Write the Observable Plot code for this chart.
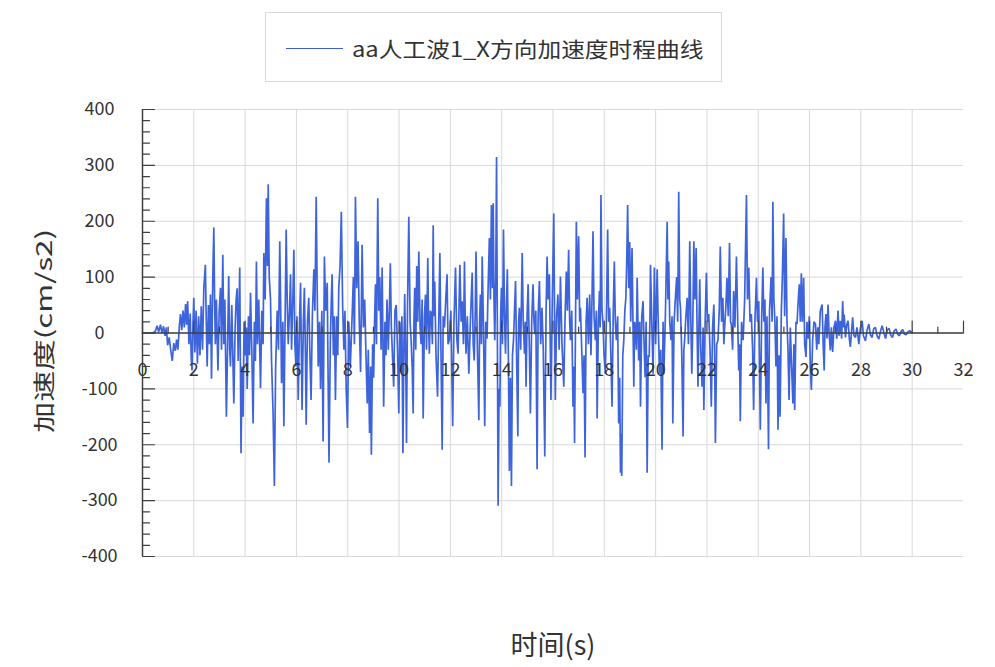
<!DOCTYPE html>
<html><head><meta charset="utf-8">
<script src="https://cdn.jsdelivr.net/npm/d3@7"></script>
<script src="https://cdn.jsdelivr.net/npm/@observablehq/plot@0.6"></script>
<style>
html,body{margin:0;padding:0;background:#fff;}
#wrap{position:relative;width:995px;height:667px;overflow:hidden;font-family:"Noto Sans CJK SC","Noto Sans",sans-serif;}
#chart{position:absolute;left:0;top:0;}
#legend{position:absolute;left:265px;top:12px;width:455px;height:68px;border:1px solid #d9d9d9;background:#fff;}
#legend .swatch{position:absolute;left:20px;top:35px;width:57px;height:0;border-top:1.5px solid #3f5fd0;}
#legend .label{position:absolute;left:86px;top:23px;font-size:21px;line-height:24px;color:#333;transform:scaleX(1.13);transform-origin:left center;white-space:nowrap;}
#ytitle{position:absolute;left:42px;top:331px;transform:translate(-50%,-50%) rotate(-90deg) scaleX(1.42);font-size:22px;line-height:24px;color:#333;white-space:nowrap;}
</style>
</head><body>
<div id="wrap">
  <div id="chart"></div>
  <div id="legend"><div class="swatch"></div><div class="label" id="legendLabel"></div></div>
  <div id="ytitle"></div>
</div>
<script>
const seriesName = "aa人工波1_X方向加速度时程曲线";
const xTitle = "时间(s)";
const yTitle = "加速度(cm/s2)";

const xMajorTicks = [0,2,4,6,8,10,12,14,16,18,20,22,24,26,28,30,32];
const xMinorTicks = [1,3,5,7,9,11,13,15,17,19,21,23,25,27,29,31];
const xGridTicks = [2,4,6,8,10,12,14,16,18,20,22,24,26,28,30];
const yMajorTicks = [-400,-300,-200,-100,0,100,200,300,400];
const yMinorTicks = [-380,-360,-340,-320,-280,-260,-240,-220,-180,-160,-140,-120,-80,-60,-40,-20,20,40,60,80,120,140,160,180,220,240,260,280,320,340,360,380];

// [time (s), acceleration (cm/s2)]
const wave0to8 = [[0,0],[0.4,0],[0.5,3],[0.57,13],[0.63,2],[0.7,15],[0.76,0],[0.82,12],[0.88,-5],[0.93,10],[0.98,-22],[1.04,-8],[1.1,-30],[1.16,-50],[1.22,-18],[1.28,-32],[1.33,-12],[1.38,-30],[1.44,15],[1.48,34],[1.53,5],[1.58,40],[1.63,10],[1.68,52],[1.72,15],[1.76,57],[1.81,-20],[1.86,35],[1.9,-45],[1.93,-67],[1.97,20],[2.0,63],[2.04,-35],[2.09,40],[2.14,-55],[2.19,30],[2.24,-40],[2.29,48],[2.34,-30],[2.39,80],[2.45,122],[2.49,10],[2.52,-60],[2.57,50],[2.61,-20],[2.65,69],[2.69,-82],[2.74,100],[2.78,189],[2.81,60],[2.84,-20],[2.88,60],[2.94,-67],[2.99,40],[3.04,81],[3.08,-30],[3.13,140],[3.17,-20],[3.21,60],[3.27,-150],[3.31,-40],[3.36,102],[3.4,-30],[3.43,-60],[3.48,50],[3.52,-40],[3.56,-126],[3.61,10],[3.65,60],[3.69,80],[3.73,-50],[3.79,117],[3.84,-215],[3.88,-60],[3.92,-150],[3.96,20],[4.01,-40],[4.05,10],[4.08,-100],[4.13,30],[4.17,-40],[4.21,72],[4.26,-30],[4.31,-162],[4.36,20],[4.4,-50],[4.44,128],[4.48,-20],[4.53,60],[4.57,-30],[4.6,-99],[4.65,40],[4.7,-20],[4.73,143],[4.78,60],[4.83,241],[4.87,120],[4.9,266],[4.94,100],[4.99,60],[5.03,-50],[5.09,-144],[5.14,-274],[5.19,-60],[5.25,40],[5.3,-30],[5.35,164],[5.39,30],[5.42,-90],[5.47,20],[5.51,-167],[5.56,30],[5.6,185],[5.64,60],[5.68,-20],[5.73,40],[5.77,105],[5.81,-30],[5.86,60],[5.9,149],[5.94,-20],[5.98,-60],[6.02,30],[6.07,-120],[6.12,20],[6.16,90],[6.22,-138],[6.27,20],[6.31,81],[6.35,-40],[6.38,-164],[6.43,20],[6.48,63],[6.52,-30],[6.57,-120],[6.62,30],[6.68,114],[6.72,40],[6.77,244],[6.81,70],[6.85,-60],[6.9,20],[6.94,-100],[6.99,40],[7.04,-194],[7.09,137],[7.14,40],[7.2,90],[7.23,-60],[7.27,-232],[7.32,-20],[7.36,60],[7.39,105],[7.44,-40],[7.48,30],[7.52,-120],[7.57,30],[7.61,-40],[7.65,80],[7.7,120],[7.75,217],[7.8,50],[7.85,-30],[7.89,40],[7.94,-100],[7.99,-170]];

const wave8to16 = [[8.04,20],[8.1,-60],[8.17,30],[8.22,100],[8.26,-20],[8.3,244],[8.35,80],[8.4,164],[8.45,20],[8.5,-70],[8.56,158],[8.61,10],[8.66,60],[8.71,-40],[8.76,-126],[8.8,-30],[8.85,-179],[8.89,-60],[8.92,-218],[8.97,-20],[9.01,-80],[9.05,30],[9.08,87],[9.12,-20],[9.17,241],[9.21,40],[9.25,100],[9.3,-30],[9.34,117],[9.4,-132],[9.45,20],[9.49,-40],[9.53,60],[9.58,-30],[9.62,40],[9.66,125],[9.7,10],[9.73,-25],[9.79,-96],[9.84,40],[9.89,50],[9.94,-30],[9.99,-144],[10.03,20],[10.07,-70],[10.11,30],[10.15,-215],[10.19,-20],[10.22,70],[10.26,-50],[10.29,-197],[10.33,50],[10.38,208],[10.43,20],[10.47,-13],[10.51,-60],[10.55,-144],[10.58,20],[10.61,81],[10.65,-30],[10.69,120],[10.73,20],[10.77,146],[10.82,10],[10.86,-20],[10.9,60],[10.94,-153],[10.99,30],[11.03,69],[11.07,-30],[11.12,134],[11.15,20],[11.18,-37],[11.22,40],[11.26,34],[11.3,-20],[11.33,193],[11.36,30],[11.39,92],[11.44,-40],[11.5,-114],[11.55,30],[11.59,143],[11.63,-20],[11.68,-209],[11.72,30],[11.77,10],[11.82,60],[11.87,105],[11.91,-20],[11.96,-13],[12.02,40],[12.09,-167],[12.14,20],[12.2,117],[12.25,-10],[12.3,-37],[12.34,50],[12.37,122],[12.42,20],[12.46,57],[12.51,-20],[12.55,128],[12.58,20],[12.61,-37],[12.66,30],[12.72,-73],[12.78,20],[12.85,108],[12.89,-20],[12.93,-49],[12.97,40],[13.0,146],[13.05,-20],[13.11,-156],[13.14,20],[13.17,69],[13.21,-20],[13.24,137],[13.29,10],[13.34,-167],[13.38,20],[13.43,-10],[13.47,80],[13.52,170],[13.56,60],[13.6,229],[13.64,80],[13.67,232],[13.7,60],[13.73,-13],[13.77,100],[13.8,315],[13.83,20],[13.86,-309],[13.9,-100],[13.93,-132],[13.96,30],[13.99,81],[14.03,-20],[14.07,185],[14.11,30],[14.15,-37],[14.18,40],[14.22,114],[14.26,-40],[14.3,-247],[14.34,-80],[14.38,-274],[14.42,-40],[14.46,-13],[14.5,40],[14.54,93],[14.58,-40],[14.63,-185],[14.66,20],[14.69,45],[14.74,-30],[14.8,143],[14.84,20],[14.89,-37],[14.92,20],[14.95,-96],[14.99,30],[15.03,87],[15.08,-30],[15.12,-144],[15.17,20],[15.22,87],[15.26,20],[15.29,-2],[15.33,40],[15.38,-244],[15.42,30],[15.47,93],[15.52,-20],[15.57,45],[15.62,-30],[15.68,-221],[15.73,40],[15.77,137],[15.81,60],[15.86,105],[15.92,-120],[15.97,50]];

const wave16to24 = [[16.03,214],[16.06,40],[16.09,-120],[16.14,30],[16.19,69],[16.24,-30],[16.29,101],[16.35,-20],[16.42,-96],[16.47,30],[16.52,110],[16.56,40],[16.61,149],[16.65,20],[16.68,-13],[16.73,40],[16.78,-132],[16.81,-60],[16.84,-197],[16.88,30],[16.91,199],[16.95,60],[17.0,173],[17.04,20],[17.07,45],[17.12,-30],[17.17,-108],[17.21,-40],[17.25,-223],[17.29,20],[17.33,63],[17.38,-20],[17.43,69],[17.48,-40],[17.52,60],[17.56,182],[17.6,30],[17.65,-13],[17.69,40],[17.72,-153],[17.77,20],[17.81,75],[17.84,10],[17.87,247],[17.91,40],[17.95,16],[17.99,-40],[18.04,-73],[18.09,50],[18.13,185],[18.17,20],[18.21,45],[18.25,-30],[18.3,-132],[18.35,40],[18.39,128],[18.43,20],[18.47,-13],[18.52,30],[18.56,-162],[18.6,-80],[18.63,-250],[18.66,-180],[18.68,-256],[18.72,-40],[18.76,-13],[18.8,40],[18.84,63],[18.87,120],[18.91,229],[18.95,80],[18.99,163],[19.03,20],[19.08,152],[19.12,10],[19.15,-96],[19.18,20],[19.21,10],[19.25,-30],[19.28,99],[19.31,20],[19.34,-49],[19.38,20],[19.41,-132],[19.46,30],[19.51,57],[19.55,-20],[19.59,-79],[19.63,20],[19.67,-250],[19.71,-40],[19.75,-43],[19.78,30],[19.8,122],[19.85,20],[19.9,-73],[19.93,30],[19.95,117],[20.0,-20],[20.06,114],[20.1,20],[20.15,-73],[20.2,-30],[20.25,-209],[20.29,20],[20.32,-73],[20.38,30],[20.45,199],[20.48,60],[20.51,128],[20.55,20],[20.6,-13],[20.64,30],[20.67,-162],[20.72,20],[20.77,63],[20.82,100],[20.86,20],[20.9,253],[20.94,60],[20.97,45],[21.02,-40],[21.07,-185],[21.1,-30],[21.13,-13],[21.18,30],[21.23,63],[21.28,-20],[21.33,164],[21.37,30],[21.41,-73],[21.45,20],[21.49,164],[21.53,60],[21.58,152],[21.61,30],[21.65,-96],[21.69,20],[21.72,96],[21.76,-30],[21.81,-96],[21.85,10],[21.88,-138],[21.93,20],[21.98,108],[22.02,20],[22.07,34],[22.12,-30],[22.17,-132],[22.22,10],[22.27,51],[22.3,-40],[22.33,-197],[22.38,-20],[22.43,-13],[22.48,40],[22.52,155],[22.57,20],[22.62,63],[22.66,-20],[22.69,10],[22.74,50],[22.78,99],[22.83,30],[22.88,161],[22.92,20],[22.95,16],[23.0,-30],[23.04,75],[23.09,10],[23.15,137],[23.2,20],[23.24,-67],[23.27,-20],[23.3,-158],[23.35,20],[23.41,-13],[23.47,60],[23.54,247],[23.58,60],[23.63,117],[23.68,20],[23.73,34],[23.78,-30],[23.82,-138],[23.87,20],[23.93,99],[23.97,20],[24.02,57]];

const wave24to30 = [[24.08,-173],[24.13,20],[24.18,117],[24.22,20],[24.26,60],[24.3,-126],[24.34,30],[24.4,-208],[24.44,40],[24.5,100],[24.54,20],[24.57,235],[24.61,60],[24.65,20],[24.69,-60],[24.73,30],[24.77,-173],[24.81,-40],[24.85,-150],[24.9,40],[24.94,100],[24.99,214],[25.03,30],[25.08,170],[25.12,20],[25.16,-30],[25.2,-120],[25.25,10],[25.3,-60],[25.35,-126],[25.39,-20],[25.42,-138],[25.47,20],[25.51,16],[25.56,60],[25.6,87],[25.64,20],[25.68,107],[25.72,20],[25.77,99],[25.81,-20],[25.86,-43],[25.9,20],[25.95,-10],[25.99,30],[26.03,-60],[26.07,-102],[26.12,-13],[26.17,20],[26.23,16],[26.28,-30],[26.32,10],[26.36,-20],[26.42,40],[26.49,51],[26.53,-20],[26.57,-67],[26.6,10],[26.64,34],[26.68,-10],[26.72,51],[26.76,0],[26.81,-31],[26.85,10],[26.9,-34],[26.95,10],[27.01,22],[27.06,-10],[27.11,40],[27.15,-5],[27.2,22],[27.25,-10],[27.29,57],[27.33,10],[27.35,33],[27.4,-8],[27.45,15],[27.5,22],[27.55,-10],[27.59,-25],[27.64,5],[27.68,28],[27.73,-5],[27.79,-8],[27.85,10],[27.92,-20],[27.98,8],[28.05,22],[28.1,-5],[28.18,-14],[28.24,5],[28.31,16],[28.37,-3],[28.44,-8],[28.5,8],[28.57,10],[28.63,-5],[28.7,-11],[28.77,4],[28.83,13],[28.9,0],[28.96,-10],[29.03,6],[29.1,8],[29.16,-3],[29.23,-8],[29.3,4],[29.37,7],[29.43,-2],[29.5,-5],[29.57,3],[29.63,6],[29.7,-2],[29.77,-3],[29.83,2],[29.9,4],[30.0,0]];

const wave = [...wave0to8, ...wave8to16, ...wave16to24, ...wave24to30].map(([t, a]) => ({t, a}));

const axisColor = "#404040";
const gridColor = "#d9d9d9";
const lineColor = "#3e64dc";
const textColor = "#333333";
const tickShape = {draw(ctx, l) { ctx.moveTo(0, 0); ctx.lineTo(0, -l); }};

const chart = Plot.plot({
  width: 995,
  height: 667,
  marginLeft: 142,
  marginRight: 32,
  marginTop: 109,
  marginBottom: 111,
  style: {fontFamily: '"Noto Sans CJK SC","Noto Sans",sans-serif', background: "transparent"},
  x: {domain: [0, 32], axis: null},
  y: {domain: [-400, 400], axis: null},
  marks: [
    Plot.ruleY(yMajorTicks, {stroke: gridColor, strokeWidth: 1}),
    Plot.ruleX(xGridTicks, {stroke: gridColor, strokeWidth: 1}),
    Plot.line(wave, {x: "t", y: "a", stroke: lineColor, strokeWidth: 1.7, strokeLinejoin: "miter"}),
    Plot.ruleY([0], {stroke: axisColor, strokeWidth: 1.5}),
    Plot.ruleX([0], {stroke: axisColor, strokeWidth: 1.5}),
    Plot.vector(xMajorTicks, {x: d => d, y: 0, length: 12, rotate: 0, anchor: "start", shape: tickShape, stroke: axisColor, strokeWidth: 1.2}),
    Plot.vector(xMinorTicks, {x: d => d, y: 0, length: 6, rotate: 0, anchor: "start", shape: tickShape, stroke: axisColor, strokeWidth: 1.2}),
    Plot.vector(yMajorTicks, {x: 0, y: d => d, length: 12, rotate: 90, anchor: "start", shape: tickShape, stroke: axisColor, strokeWidth: 1.2}),
    Plot.vector(yMinorTicks, {x: 0, y: d => d, length: 7, rotate: 90, anchor: "start", shape: tickShape, stroke: axisColor, strokeWidth: 1.2}),
    Plot.text(xMajorTicks, {x: d => d, y: 0, dy: 37, text: d => String(d), fontSize: 18, fill: textColor}),
    Plot.text(yMajorTicks, {x: 0, y: d => d, dx: -43, text: d => String(d), fontSize: 18, fill: textColor, textAnchor: "middle", style: "letter-spacing:1.5px"}),
    Plot.text([xTitle], {frameAnchor: "bottom", dy: 98, text: d => d, fontSize: 27, fill: textColor})
  ]
});
document.getElementById("chart").appendChild(chart);
document.getElementById("legendLabel").textContent = seriesName;
document.getElementById("ytitle").textContent = yTitle;
</script>
</body></html>
